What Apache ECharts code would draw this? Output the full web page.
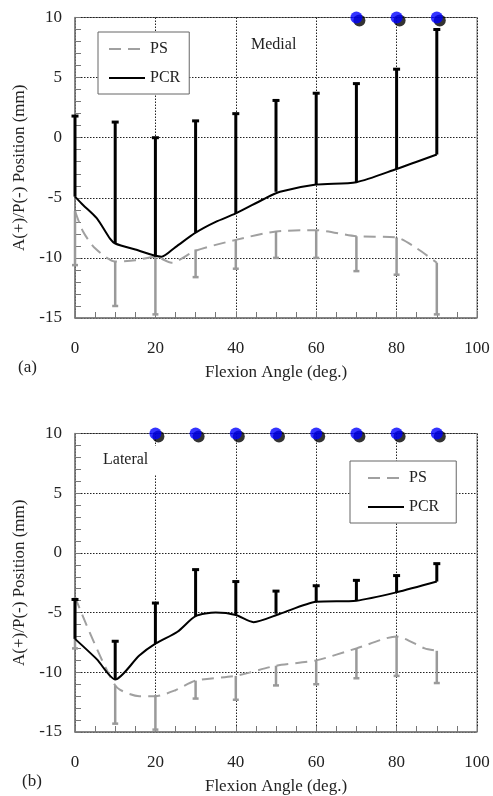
<!DOCTYPE html>
<html>
  <head>
    <title>Flexion angle A/P position</title>
    <meta charset='utf-8' />
    <script src="https://cdn.jsdelivr.net/npm/echarts@6/dist/echarts.min.js"></script>
    <style>
      html, body { margin: 0; padding: 0; background: #fff; }
      #content { width: 493px; height: 796px; }
    </style>
  </head>
  <body>
    <div id="content"></div>

    <script type="text/javascript">
      // flexion angles where SD bars are drawn
      var angles = [0, 10, 20, 30, 40, 50, 60, 70, 80, 90];

      // (a) Medial
      var medPcrCurve = [[0, -4.9], [2, -5.6], [5.4, -6.7], [8.7, -8.4], [10, -8.8], [15, -9.3], [21.5, -9.9],
        [25, -9.1], [30, -7.9], [35, -7.0], [40, -6.3], [47, -5.1], [51, -4.5], [60, -3.9], [70, -3.7], [80, -2.6], [90, -1.4]];
      var medPsCurve = [[0, -6.1], [2, -7.8], [5, -9.2], [10, -10.3], [15, -10.2], [20, -9.9], [24, -10.4],
        [30, -9.4], [40, -8.5], [50, -7.8], [60, -7.7], [70, -8.2], [80, -8.3], [85, -9.2], [90, -10.4]];
      var medPcrMean = [-4.9, -8.8, -9.9, -7.9, -6.3, -4.5, -3.9, -3.7, -2.6, -1.4];
      var medPcrTop = [1.8, 1.3, 0.0, 1.4, 2.0, 3.1, 3.7, 4.5, 5.7, 9.0];
      var medPsMean = [-6.1, -10.3, -9.9, -9.3, -8.5, -7.8, -7.7, -8.2, -8.3, -10.4];
      var medPsBottom = [-10.6, -14.0, -14.7, -11.6, -10.9, -10.0, -10.0, -11.1, -11.4, -14.7];
      var medSignif = [70, 80, 90];

      // (b) Lateral
      var latPcrCurve = [[0, -7.2], [5.4, -8.9], [10, -10.6], [16, -8.6], [20, -7.6], [25.5, -6.6], [30, -5.3],
        [35, -5.0], [40, -5.2], [44.4, -5.8], [51, -5.1], [60, -4.1], [70, -4.0], [80, -3.3], [90, -2.4]];
      var latPsCurve = [[0, -3.7], [10, -11.1], [16, -12.0], [20, -12.0], [25, -11.5], [30, -10.7], [40, -10.3],
        [50, -9.45], [60, -9.0], [70, -8.0], [80, -7.0], [87, -8.0], [90, -8.2]];
      var latPcrMean = [-7.2, -10.6, -7.6, -5.3, -5.2, -5.1, -4.1, -4.0, -3.3, -2.4];
      var latPcrTop = [-3.9, -7.4, -4.2, -1.4, -2.4, -3.2, -2.75, -2.3, -1.9, -0.9];
      var latPsMean = [-3.7, -11.1, -11.9, -10.7, -10.3, -9.45, -9.0, -8.0, -7.0, -8.2];
      var latPsBottom = [-8.0, -14.3, -14.8, -12.2, -12.3, -11.1, -11.0, -10.5, -10.3, -10.9];
      var latSignif = [20, 30, 40, 50, 60, 70, 80, 90];

      var FONT = 'Liberation Serif';

      function bars(mean, end) {
        return angles.map(function (a, i) { return [a, mean[i], end[i]]; });
      }

      function errBar(color, width, capW) {
        return function (params, api) {
          var x = api.value(0);
          var p0 = api.coord([x, api.value(1)]);
          var p1 = api.coord([x, api.value(2)]);
          return {
            type: 'group',
            children: [
              {type: 'line', shape: {x1: p0[0], y1: p0[1], x2: p1[0], y2: p1[1]},
                style: {stroke: color, lineWidth: width}},
              {type: 'line', shape: {x1: p1[0] - capW / 2, y1: p1[1], x2: p1[0] + capW / 2, y2: p1[1]},
                style: {stroke: color, lineWidth: width}}
            ]
          };
        };
      }

      var gridLine = {show: true, lineStyle: {color: '#222', type: [1.5, 1.5], width: 1}};

      function xAxisCfg(idx) {
        return {
          gridIndex: idx, type: 'value', min: 0, max: 100, interval: 20,
          name: 'Flexion Angle (deg.)', nameLocation: 'middle', nameGap: 46,
          nameTextStyle: {fontFamily: FONT, fontSize: 17, color: '#222'},
          axisLine: {onZero: false, lineStyle: {color: '#777', width: 1.5}},
          axisTick: {inside: true, length: 6, lineStyle: {color: '#777'}},
          minorTick: {show: true, splitNumber: 4, length: 6, lineStyle: {color: '#777'}},
          axisLabel: {fontFamily: FONT, fontSize: 17, color: '#222', margin: 22},
          splitLine: gridLine
        };
      }

      function yAxisCfg(idx) {
        return {
          gridIndex: idx, type: 'value', min: -15, max: 10, interval: 5,
          name: 'A(+)/P(-) Position (mm)', nameLocation: 'middle', nameGap: 46,
          nameTextStyle: {fontFamily: FONT, fontSize: 17, color: '#222'},
          axisLine: {onZero: false, lineStyle: {color: '#777', width: 1.5}},
          axisTick: {inside: true, length: 6, lineStyle: {color: '#777'}},
          minorTick: {show: true, splitNumber: 5, length: 6, lineStyle: {color: '#777'}},
          axisLabel: {fontFamily: FONT, fontSize: 17, color: '#222', margin: 13},
          splitLine: gridLine
        };
      }

      function panelSeries(idx, pcrCurve, psCurve, pcrMean, pcrTop, psMean, psBottom, signif) {
        return [
          {name: 'PS', type: 'line', xAxisIndex: idx, yAxisIndex: idx, data: psCurve,
            symbol: 'none', smooth: 0.25, lineStyle: {color: '#a0a0a0', width: 2, type: [12, 7]},
            itemStyle: {color: '#a0a0a0'}, z: 3},
          {name: 'PS SD', type: 'custom', xAxisIndex: idx, yAxisIndex: idx, data: bars(psMean, psBottom),
            encode: {x: 0, y: [1, 2]}, renderItem: errBar('#9a9a9a', 2.5, 6), z: 4},
          {name: 'PCR', type: 'line', xAxisIndex: idx, yAxisIndex: idx, data: pcrCurve,
            symbol: 'none', smooth: 0.25, lineStyle: {color: '#000', width: 2},
            itemStyle: {color: '#000'}, z: 5},
          {name: 'PCR SD', type: 'custom', xAxisIndex: idx, yAxisIndex: idx, data: bars(pcrMean, pcrTop),
            encode: {x: 0, y: [1, 2]}, renderItem: errBar('#000', 3, 7), z: 6},
          {name: 'sig shadow', type: 'scatter', xAxisIndex: idx, yAxisIndex: idx,
            data: signif.map(function (a) { return [a, 10]; }), symbolSize: 12, symbolOffset: [3, 3],
            itemStyle: {color: '#000'}, clip: false, z: 7},
          {name: 'sig', type: 'scatter', xAxisIndex: idx, yAxisIndex: idx,
            data: signif.map(function (a) { return [a, 10]; }), symbolSize: 12,
            itemStyle: {color: '#0000ff'}, clip: false, z: 8}
        ];
      }

      var legendBase = {
        orient: 'vertical', data: ['PS', 'PCR'], backgroundColor: '#fff',
        borderColor: '#666', borderWidth: 1, itemGap: 13,
        itemWidth: 36, itemHeight: 14, selectedMode: false,
        itemStyle: {opacity: 0},
        textStyle: {fontFamily: FONT, fontSize: 16, color: '#222'}
      };

      var myChart = echarts.init(document.getElementById('content'));
      var options = {
        animation: false,
        grid: [
          {left: 75, top: 17.5, width: 402, height: 300.5, show: true, borderColor: '#777', borderWidth: 1},
          {left: 75, top: 433.5, width: 402, height: 300.5, show: true, borderColor: '#777', borderWidth: 1}
        ],
        legend: [
          Object.assign({left: 98, top: 32, padding: [9, 9, 8, 10]}, legendBase),
          Object.assign({left: 350, top: 461, padding: [9, 17, 8, 17]}, legendBase)
        ],
        xAxis: [xAxisCfg(0), xAxisCfg(1)],
        yAxis: [yAxisCfg(0), yAxisCfg(1)],
        graphic: [
          {type: 'text', left: 251, top: 37, z: 100,
            style: {text: 'Medial', font: '16px "Liberation Serif"', fill: '#222'}},
          {type: 'rect', left: 100, top: 446, z: 99, shape: {width: 66, height: 28}, style: {fill: '#fff'}},
          {type: 'text', left: 103, top: 452, z: 100,
            style: {text: 'Lateral', font: '16px "Liberation Serif"', fill: '#222'}},
          {type: 'text', left: 18, top: 359, z: 100,
            style: {text: '(a)', font: '17px "Liberation Serif"', fill: '#222'}},
          {type: 'text', left: 22, top: 773, z: 100,
            style: {text: '(b)', font: '17px "Liberation Serif"', fill: '#222'}}
        ],
        series: panelSeries(0, medPcrCurve, medPsCurve, medPcrMean, medPcrTop, medPsMean, medPsBottom, medSignif)
          .concat(panelSeries(1, latPcrCurve, latPsCurve, latPcrMean, latPcrTop, latPsMean, latPsBottom, latSignif))
      };
      myChart.setOption(options);
    </script>
  </body>
</html>
